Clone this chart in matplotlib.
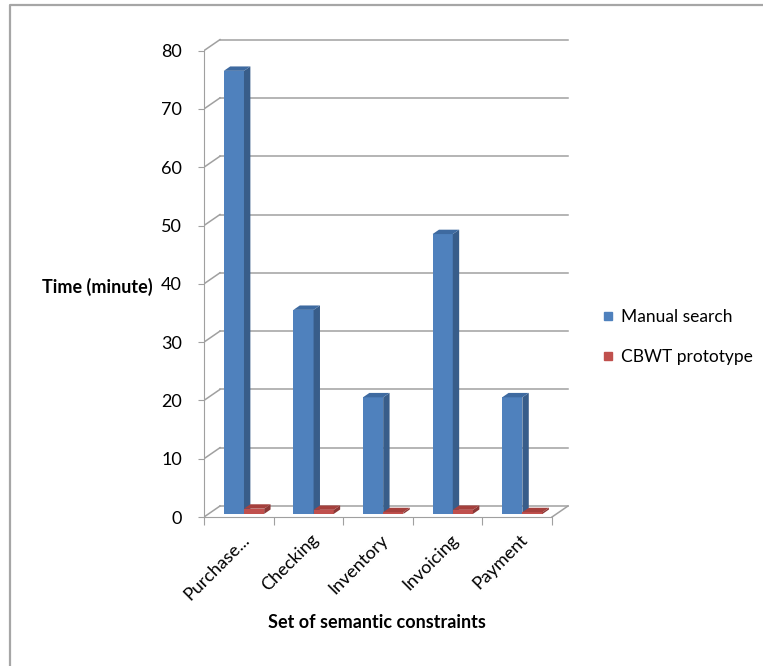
import numpy as np
import matplotlib.pyplot as plt
from matplotlib.patches import Polygon
from matplotlib.lines import Line2D
import matplotlib.transforms as mtransforms

categories = ["Purchase...", "Checking", "Inventory", "Invoicing", "Payment"]
manual_search = [76, 35, 20, 48, 20]
cbwt_prototype = [0.9, 0.7, 0.3, 0.7, 0.3]
y_ticks = [0, 10, 20, 30, 40, 50, 60, 70, 80]

plt.rcParams['font.family'] = ['Lato', 'DejaVu Sans']

W, H = 763, 666
fig = plt.figure(figsize=(W / 100, H / 100), dpi=100)

# grey frame of the chart area: only the top and left edges are in the picture
fig.lines.append(Line2D([10 / W, 10 / W, 1], [0, 1 - 5 / H, 1 - 5 / H], transform=fig.transFigure,
                        color="#a6a6a6", linewidth=1.6))

# axes placement in pixels (x=0 at 204px, 69.6 px per category; y=0 at 517px, 5.83 px per unit)
px_x, px_y = 69.6, 5.83
xmax, ymax = 5.3, 83
left, bottom = 204, H - 517
ax = fig.add_axes([left / W, bottom / H, xmax * px_x / W, ymax * px_y / H])
ax.set_xlim(0, xmax)
ax.set_ylim(0, ymax)
ax.patch.set_alpha(0)

# oblique depth of the 3D floor/walls
DX = 16 / px_x
DY = 11 / px_y


def proj(x, y, z):
    return x + z * DX, y + z * DY


grid_col = "#a0a0a0"
n = len(categories)
for v in y_ticks:
    x0, y0 = proj(0, v, 1)
    x1, y1 = proj(n, v, 1)
    ax.plot([x0, x1], [y0, y1], color=grid_col, lw=1.1, zorder=1)
    fx, fy = proj(0, v, 0)
    ax.plot([fx, x0], [fy, y0], color=grid_col, lw=1.1, zorder=1)
# right edge of the floor
ax.plot([n, proj(n, 0, 1)[0]], [0, proj(n, 0, 1)[1]], color=grid_col, lw=1.1, zorder=1)

for s in ["top", "right"]:
    ax.spines[s].set_visible(False)
ax.spines["left"].set_bounds(0, 80)
ax.spines["bottom"].set_bounds(0, n)
ax.spines["left"].set_color(grid_col)
ax.spines["bottom"].set_color(grid_col)
ax.set_yticks(y_ticks)
ax.set_yticklabels([str(v) for v in y_ticks], fontsize=13)
ax.tick_params(axis="y", length=4, color=grid_col, pad=12)
ax.set_xticks(np.arange(n + 1))
ax.set_xticklabels([])
ax.tick_params(axis="x", length=6, color=grid_col)

# category labels, rotated like Excel
lab_trans = mtransforms.offset_copy(ax.transData, fig=fig, x=8, y=-20, units="dots")
for i, c in enumerate(categories):
    ax.text(i + 0.5, 0, c, rotation=45, ha="right", va="center", rotation_mode="anchor",
            fontsize=13, transform=lab_trans)

z0, z1 = 0.28, 0.68
bw = 0.29
series = [
    (manual_search, 0.22, "#4f81bd", "#385d8a", "#3e6aa0"),
    (cbwt_prototype, 0.22 + bw, "#c0504d", "#8c3836", "#a5403d"),
]
for i in range(n):
    for vals, off, front, side, top in series:
        v = vals[i]
        xl = i + off
        xr = xl + bw
        fx, fb = proj(xl, 0, z0)
        ax.bar(fx, v, width=bw, bottom=fb, align="edge", color=front, linewidth=0, zorder=3)
        side_pts = [proj(xr, 0, z0), proj(xr, 0, z1), proj(xr, v, z1), proj(xr, v, z0)]
        ax.add_patch(Polygon(side_pts, closed=True, facecolor=side, edgecolor="none", zorder=3))
        top_pts = [proj(xl, v, z0), proj(xr, v, z0), proj(xr, v, z1), proj(xl, v, z1)]
        ax.add_patch(Polygon(top_pts, closed=True, facecolor=top, edgecolor="none", zorder=3))

fig.text(153 / W, 1 - 287 / H, "Time (minute)", ha="right", va="center", fontsize=13, fontweight="bold")
fig.text(377 / W, 1 - 623 / H, "Set of semantic constraints", ha="center", va="center",
         fontsize=13, fontweight="bold")

handles = [Line2D([], [], marker="s", ls="none", color="#4f81bd", markersize=6),
           Line2D([], [], marker="s", ls="none", color="#c0504d", markersize=6)]
fig.legend(handles, ["Manual search", "CBWT prototype"], loc="center left",
           bbox_to_anchor=(586 / W, 1 - 337 / H), frameon=False, fontsize=12.5,
           handlelength=0.7, handletextpad=0.4, labelspacing=1.35)

fig.savefig("out.png", dpi=100)
